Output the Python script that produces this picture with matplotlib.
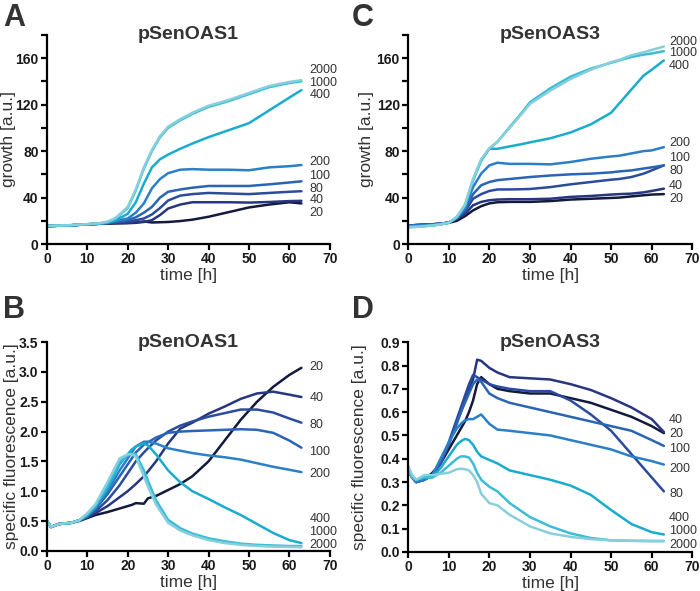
import matplotlib
matplotlib.use("Agg")
import matplotlib.pyplot as plt
from matplotlib.ticker import MultipleLocator

plt.rcParams["font.family"] = ["Liberation Sans", "DejaVu Sans"]

conc = ["20", "40", "80", "100", "200", "400", "1000", "2000"]
colors = ["#141a3c", "#27367f", "#2a4b9e", "#2a64b4", "#2a80c8",
          "#1aaccc", "#3cbcd6", "#88cfdc"]

# panel A: pSenOAS1 growth
t_a = [0, 5, 10, 13, 15, 17, 20, 22, 24, 26, 28, 30, 33, 36, 40, 45, 50, 55, 60, 63]
growth_1 = {
    "20":   [15.5, 16, 17, 17.5, 17.5, 17.8, 18, 18.3, 19.5, 18.6, 18.8, 19, 19.8, 21, 23.5, 27.5, 31.5, 34, 36, 35],
    "40":   [15.5, 16, 17, 17.5, 17.8, 18, 18.3, 18.6, 19, 20.6, 25, 30.6, 34, 36, 36, 36, 35.7, 36.2, 37, 37.2],
    "80":   [15.5, 16, 17, 17.5, 18, 18.5, 19.5, 20.5, 22, 25.5, 31, 37.5, 41.7, 43, 44, 43.5, 43, 44, 45, 45.5],
    "100":  [15.5, 16, 17, 17.5, 18, 19, 20.6, 23, 27, 32, 40, 45, 47, 48.5, 50, 50, 50, 51.4, 53, 54],
    "200":  [15.5, 16, 17, 17.5, 18.5, 20, 22, 27, 35, 48, 56, 61, 64, 64.5, 64, 64, 63.5, 66, 67, 68],
    "400":  [15.5, 16, 17, 17.5, 18.5, 20.5, 26, 36, 52, 66, 73, 77, 82, 86.5, 92, 98, 104, 115, 126, 132.5],
    "1000": [15.5, 16, 17, 17.8, 19, 22, 31, 46, 65, 80, 92, 100, 106.5, 112, 118, 123, 129, 135, 138.6, 140],
    "2000": [15.7, 16.2, 17.2, 18, 19.3, 22.5, 32, 47, 66, 81, 93, 101, 107.5, 113, 119, 124, 130, 136, 139.5, 141],
}
lab_a = [27, 37.5, 47.5, 58.5, 70.5, 128, 139, 150]

# panel C: pSenOAS3 growth
t_c = [0, 3, 6, 8, 10, 12, 14, 16, 18, 20, 22, 25, 28, 30, 35, 40, 45, 50, 52, 55, 58, 60, 63]
growth_3 = {
    "20":   [16, 16.5, 17, 17.5, 18.3, 20, 24, 29, 32.6, 35, 36, 36.3, 36.3, 36.3, 37, 38.3, 39, 39.7, 40, 41, 42, 42.6, 43],
    "40":   [16, 16.5, 17, 17.5, 18.5, 21.5, 26, 33.4, 36.3, 37.7, 38.3, 38.6, 38.6, 38.6, 39, 40.6, 41.4, 42.6, 43, 43.4, 44.5, 45.7, 47.7],
    "80":   [16, 16.5, 17, 17.5, 18.5, 22, 28, 39, 43, 45.7, 47, 47, 47.2, 47.4, 49, 51.4, 53.4, 55.4, 56, 57.7, 60.6, 63.4, 67.7],
    "100":  [16, 16.5, 17, 17.5, 18.5, 22.5, 29, 43, 50.6, 53.4, 55, 56, 57, 57.7, 59, 60, 60.6, 61.7, 62.5, 63.4, 65, 66, 67.7],
    "200":  [15.5, 16, 16.5, 17.5, 18.5, 23, 31, 49, 60.6, 67.7, 70, 69, 69, 69, 68.6, 70.6, 73.4, 75.4, 76, 78, 80, 80.6, 83.4],
    "400":  [15, 15.5, 16, 17, 18.3, 23, 33, 55, 72, 82, 82, 84, 86, 87.5, 91, 96, 103, 113, 121, 133, 145, 150, 158],
    "1000": [14.5, 15, 16, 17, 18.3, 23, 33, 55, 72, 82, 88, 100.6, 113, 122, 134, 144, 151, 156, 158, 161, 163, 164, 166],
    "2000": [14.5, 15, 16, 17, 18.3, 23.5, 34, 56, 73, 82.5, 88, 100, 112, 120.5, 132, 142, 150, 156.5, 158.5, 162.5, 165, 167, 170],
}
lab_c = [39, 50, 63, 74, 87, 153, 164, 174]

# panel B: pSenOAS1 specific fluorescence
t_b = [0, 1, 3, 6, 8, 10, 12, 15, 18, 20, 21, 22, 24, 25, 27, 30, 33, 36, 40, 44, 48, 52, 56, 60, 63]
fluo_1 = {
    "20":   [0.5, 0.4, 0.45, 0.47, 0.5, 0.55, 0.6, 0.65, 0.71, 0.75, 0.77, 0.8, 0.79, 0.88, 0.92, 1.02, 1.12, 1.25, 1.5, 1.85, 2.2, 2.5, 2.75, 2.95, 3.07],
    "40":   [0.5, 0.4, 0.45, 0.47, 0.51, 0.56, 0.63, 0.75, 0.9, 1.0, 1.06, 1.12, 1.25, 1.33, 1.5, 1.8, 2.05, 2.15, 2.3, 2.42, 2.55, 2.64, 2.67, 2.62, 2.58],
    "80":   [0.5, 0.4, 0.45, 0.47, 0.51, 0.57, 0.66, 0.85, 1.1, 1.3, 1.4, 1.5, 1.65, 1.72, 1.85, 2.0, 2.1, 2.17, 2.25, 2.31, 2.37, 2.37, 2.32, 2.22, 2.15],
    "100":  [0.5, 0.4, 0.45, 0.47, 0.51, 0.58, 0.7, 0.95, 1.25, 1.45, 1.55, 1.65, 1.78, 1.82, 1.9, 1.98, 2.0, 2.01, 2.02, 2.03, 2.04, 2.03, 1.98, 1.85, 1.73],
    "200":  [0.5, 0.4, 0.45, 0.47, 0.51, 0.58, 0.72, 1.0, 1.35, 1.55, 1.65, 1.75, 1.83, 1.83, 1.8, 1.72, 1.68, 1.64, 1.6, 1.57, 1.53, 1.47, 1.41, 1.36, 1.32],
    "400":  [0.5, 0.4, 0.45, 0.47, 0.51, 0.6, 0.74, 1.05, 1.45, 1.62, 1.7, 1.75, 1.8, 1.77, 1.62, 1.35, 1.15, 1.0, 0.87, 0.73, 0.6, 0.45, 0.3, 0.18, 0.13],
    "1000": [0.5, 0.4, 0.45, 0.47, 0.51, 0.62, 0.76, 1.1, 1.5, 1.6, 1.63, 1.62, 1.35, 1.18, 0.85, 0.52, 0.38, 0.29, 0.21, 0.16, 0.12, 0.1, 0.09, 0.08, 0.08],
    "2000": [0.5, 0.4, 0.45, 0.47, 0.51, 0.63, 0.78, 1.15, 1.55, 1.62, 1.62, 1.58, 1.25, 1.08, 0.78, 0.47, 0.34, 0.26, 0.18, 0.13, 0.1, 0.08, 0.07, 0.065, 0.06],
}
lab_b = [3.08, 2.56, 2.11, 1.66, 1.29, 0.54, 0.32, 0.10]

# panel D: pSenOAS3 specific fluorescence
t_d = [0, 1, 2, 4, 6, 8, 10, 12, 13, 14, 15, 16, 17, 18, 20, 22, 25, 30, 35, 40, 45, 50, 55, 60, 63]
fluo_3 = {
    "20":   [0.35, 0.32, 0.3, 0.31, 0.34, 0.38, 0.44, 0.5, 0.53, 0.56, 0.6, 0.65, 0.72, 0.75, 0.72, 0.7, 0.69, 0.68, 0.68, 0.66, 0.64, 0.61, 0.58, 0.54, 0.51],
    "40":   [0.35, 0.32, 0.3, 0.31, 0.33, 0.38, 0.46, 0.56, 0.6, 0.65, 0.7, 0.74, 0.825, 0.82, 0.79, 0.77, 0.75, 0.745, 0.74, 0.72, 0.695, 0.66, 0.62, 0.57, 0.515],
    "80":   [0.35, 0.32, 0.3, 0.31, 0.33, 0.38, 0.47, 0.57, 0.62, 0.67, 0.72, 0.76, 0.75, 0.74, 0.72, 0.71, 0.7, 0.69, 0.69, 0.65, 0.59, 0.52, 0.42, 0.32, 0.26],
    "100":  [0.35, 0.32, 0.3, 0.31, 0.33, 0.39, 0.46, 0.55, 0.6, 0.64, 0.68, 0.72, 0.74, 0.73, 0.68, 0.66, 0.64, 0.62, 0.6, 0.58, 0.56, 0.54, 0.52, 0.48, 0.455],
    "200":  [0.35, 0.32, 0.3, 0.31, 0.33, 0.4, 0.47, 0.53, 0.55, 0.565, 0.57, 0.57, 0.58, 0.59, 0.55, 0.525, 0.52, 0.51, 0.5, 0.48, 0.46, 0.44, 0.41, 0.39, 0.375],
    "400":  [0.35, 0.32, 0.31, 0.32, 0.32, 0.36, 0.41, 0.46, 0.475, 0.485, 0.48, 0.46, 0.43, 0.41, 0.395, 0.38, 0.35, 0.33, 0.31, 0.285, 0.245, 0.18, 0.12, 0.085, 0.075],
    "1000": [0.35, 0.32, 0.31, 0.32, 0.32, 0.34, 0.37, 0.4, 0.41, 0.41, 0.405, 0.38, 0.34, 0.31, 0.28, 0.26, 0.21, 0.15, 0.11, 0.08, 0.06, 0.05, 0.048, 0.047, 0.047],
    "2000": [0.37, 0.33, 0.31, 0.33, 0.33, 0.335, 0.34, 0.355, 0.357, 0.355, 0.35, 0.33, 0.3, 0.25, 0.21, 0.2, 0.16, 0.11, 0.08, 0.065, 0.055, 0.05, 0.048, 0.047, 0.047],
}
lab_d = [0.506, 0.566, 0.249, 0.441, 0.356, 0.146, 0.09, 0.03]

fig = plt.figure(figsize=(7, 5.91), dpi=100)

# letter, axes rect, data, title, ylabel, ymax, minor/major step, format,
# label x position (data units), ylabel x (axes units)
panels = [
    ("A", [0.067, 0.587, 0.404, 0.354], t_a, growth_1, lab_a, "pSenOAS1",
     "growth [a.u.]", 180, 20, 40, "{:.0f}", 65, -0.108),
    ("C", [0.583, 0.587, 0.406, 0.354], t_c, growth_3, lab_c, "pSenOAS3",
     "growth [a.u.]", 180, 20, 40, "{:.0f}", 64.3, -0.12),
    ("B", [0.067, 0.068, 0.404, 0.353], t_b, fluo_1, lab_b, "pSenOAS1",
     "specific fluorescence [a.u.]", 3.5, 0.5, 0.5, "{:.1f}", 65, -0.1),
    ("D", [0.583, 0.066, 0.406, 0.355], t_d, fluo_3, lab_d, "pSenOAS3",
     "specific fluorescence [a.u.]", 0.9, 0.1, 0.1, "{:.1f}", 64.3, -0.144),
]

for (letter, rect, t, series, lab_y, title, ylabel, ymax, minor, major, fmt,
     lab_x, ylab_x) in panels:
    ax = fig.add_axes(rect)
    for c, col in zip(conc, colors):
        ax.plot(t, series[c], color=col, lw=1.8, solid_capstyle="round")
    for c, y in zip(conc, lab_y):
        ax.text(lab_x, y, c, fontsize=9, color="#333333", va="center",
                ha="left", clip_on=False)
    ax.set_xlim(0, 70)
    ax.set_ylim(0, ymax)
    ax.xaxis.set_major_locator(MultipleLocator(10))
    ax.yaxis.set_major_locator(MultipleLocator(major))
    ax.yaxis.set_minor_locator(MultipleLocator(minor))
    ax.yaxis.set_major_formatter(plt.FuncFormatter(lambda v, p, f=fmt: f.format(v)))
    for s in ["top", "right"]:
        ax.spines[s].set_visible(False)
    for s in ["left", "bottom"]:
        ax.spines[s].set_linewidth(1.6)
    ax.tick_params(which="both", direction="out", length=4, width=1.6,
                   labelsize=10, colors="black", pad=2)
    for lbl in ax.get_xticklabels() + ax.get_yticklabels():
        lbl.set_fontweight("bold")
        lbl.set_color("#1a1a1a")
    ax.set_xlabel("time [h]", fontsize=12.5, color="#333333", labelpad=1)
    ax.set_ylabel(ylabel, fontsize=12.5, color="#333333")
    ax.yaxis.set_label_coords(ylab_x, 0.5)
    ax.text(0.5, 1.0, title, transform=ax.transAxes, ha="center",
            va="center", fontsize=14, fontweight="bold", color="#333333")
    fx = 0.004 if rect[0] < 0.5 else 0.503
    fy = 0.995 if rect[1] > 0.5 else 0.5
    fig.text(fx, fy, letter, fontsize=22, fontweight="bold",
             color="#333333", va="top", ha="left")

fig.savefig("out.png", dpi=100)
